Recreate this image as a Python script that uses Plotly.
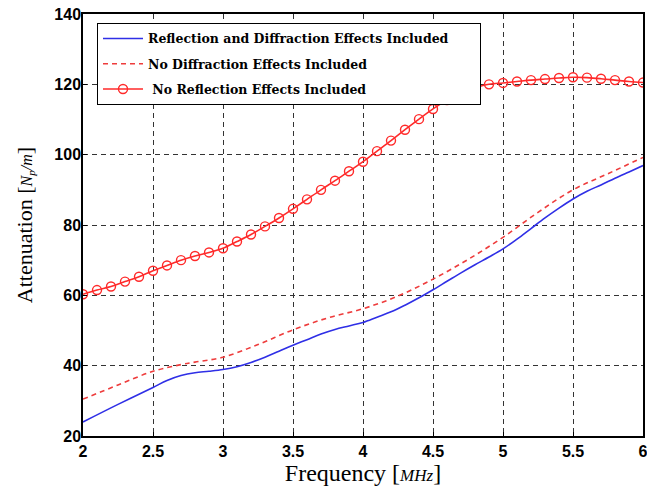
import plotly.graph_objects as go

# ---- data ----
freq_blue = [2.0, 2.25, 2.5, 2.6, 2.7, 2.8, 2.9, 3.0, 3.1, 3.2, 3.3, 3.4, 3.5, 3.6, 3.7,
             3.8, 3.9, 4.0, 4.1, 4.2, 4.3, 4.4, 4.5, 4.6, 4.7, 4.8, 4.9, 5.0, 5.1, 5.2,
             5.3, 5.4, 5.5, 5.6, 5.7, 5.8, 5.9, 6.0]
atten_blue = [24.0, 29.0, 33.8, 35.8, 37.2, 38.0, 38.4, 38.9, 39.7, 40.9, 42.4, 44.1, 45.8,
              47.4, 49.0, 50.3, 51.3, 52.3, 53.8, 55.3, 57.2, 59.3, 61.6, 64.0, 66.4, 68.7,
              70.9, 73.2, 76.0, 79.0, 82.0, 84.8, 87.4, 89.6, 91.4, 93.3, 95.1, 96.9]

freq_dash = [2.0, 2.25, 2.5, 2.7, 2.8, 3.0, 3.25, 3.5, 3.75, 4.0, 4.25, 4.5, 4.75, 5.0,
             5.25, 5.5, 5.75, 6.0]
atten_dash = [30.5, 34.5, 38.4, 40.3, 41.0, 42.4, 46.0, 50.2, 53.6, 56.2, 59.8, 64.6, 70.2,
              76.5, 83.6, 90.0, 94.6, 99.2]

freq_circ = [2.0, 2.1, 2.2, 2.3, 2.4, 2.5, 2.6, 2.7, 2.8, 2.9, 3.0, 3.1, 3.2, 3.3, 3.4,
             3.5, 3.6, 3.7, 3.8, 3.9, 4.0, 4.1, 4.2, 4.3, 4.4, 4.5, 4.6, 4.7, 4.8, 4.9,
             5.0, 5.1, 5.2, 5.3, 5.4, 5.5, 5.6, 5.7, 5.8, 5.9, 6.0]
atten_circ = [60.3, 61.5, 62.5, 63.9, 65.3, 67.0, 68.5, 70.0, 71.2, 72.2, 73.4, 75.3, 77.3,
              79.6, 82.0, 84.6, 87.3, 90.0, 92.6, 95.3, 98.0, 101.0, 104.0, 107.1, 110.1,
              113.0, 115.5, 117.6, 119.0, 120.0, 120.4, 120.8, 121.2, 121.5, 121.8, 122.0,
              121.9, 121.6, 121.2, 120.8, 120.5]

x_ticks = [2, 2.5, 3, 3.5, 4, 4.5, 5, 5.5, 6]
x_ticklabels = ["2", "2.5", "3", "3.5", "4", "4.5", "5", "5.5", "6"]
y_ticks = [20, 40, 60, 80, 100, 120, 140]
y_ticklabels = ["20", "40", "60", "80", "100", "120", "140"]

names = ["Reflection and Diffraction Effects Included",
         "No Diffraction Effects Included",
         " No Reflection Effects Included"]
pad = "\u00a0" * 6

fig = go.Figure()
fig.add_trace(go.Scatter(x=freq_blue, y=atten_blue, mode="lines", name=names[0] + pad,
                         legendgroup="a",
                         line=dict(color="#2f2fe6", width=1.6, shape="spline")))
fig.add_trace(go.Scatter(x=freq_dash, y=atten_dash, mode="lines", name=names[1],
                         legendgroup="b",
                         line=dict(color="#ee3c3c", width=1.6, dash="5px,4px", shape="spline")))
fig.add_trace(go.Scatter(x=freq_circ, y=atten_circ, mode="lines+markers", name=names[2],
                         legendgroup="c",
                         line=dict(color="#ff2a2a", width=1.6, shape="spline"),
                         marker=dict(symbol="circle-open", size=9,
                                     line=dict(color="#ff2a2a", width=1.4))))

fig.update_layout(
    width=647, height=492,
    margin=dict(l=83, r=4, t=14, b=56),
    paper_bgcolor="white", plot_bgcolor="white",
    showlegend=True,
    legend=dict(x=0.025, y=0.979, xanchor="left", yanchor="top",
                bgcolor="white", bordercolor="black", borderwidth=1,
                font=dict(family="DejaVu Serif", size=12.5, color="black", weight="bold"),
                tracegroupgap=6, itemwidth=40),
)
fig.update_xaxes(
    range=[2, 6], tickvals=x_ticks,
    ticktext=["<b>%s</b>" % t for t in x_ticklabels],
    automargin=False, ticklabeloverflow="allow",
    showgrid=True, gridcolor="#333333", griddash="5px,4px", gridwidth=1,
    showline=True, linecolor="black", linewidth=1.5, mirror=True,
    ticks="inside", ticklen=4, tickcolor="black",
    tickfont=dict(family="Liberation Sans", size=16, color="black"),
    zeroline=False,
    title=dict(text="Frequency [<i style='font-size:17px'>MHz</i>]", standoff=4,
               font=dict(family="Liberation Serif", size=24, color="black")),
)
fig.update_yaxes(
    range=[20, 140], tickvals=y_ticks,
    ticktext=["<b>%s</b>" % t for t in y_ticklabels],
    automargin=False, ticklabeloverflow="allow", ticklabelstandoff=-3,
    showgrid=True, gridcolor="#333333", griddash="5px,4px", gridwidth=1,
    showline=True, linecolor="black", linewidth=1.5, mirror=True,
    ticks="inside", ticklen=4, tickcolor="black",
    tickfont=dict(family="Liberation Sans", size=16, color="black"),
    zeroline=False,
    title=dict(text="Attenuation [<i style='font-size:16px'>N<sub>p</sub>/m</i>]", standoff=16,
               font=dict(family="Liberation Serif", size=22, color="black")),
)

fig.write_html("out.html", config={"displayModeBar": False},
               post_script="document.body.style.margin='0';document.body.style.overflow='hidden';")
